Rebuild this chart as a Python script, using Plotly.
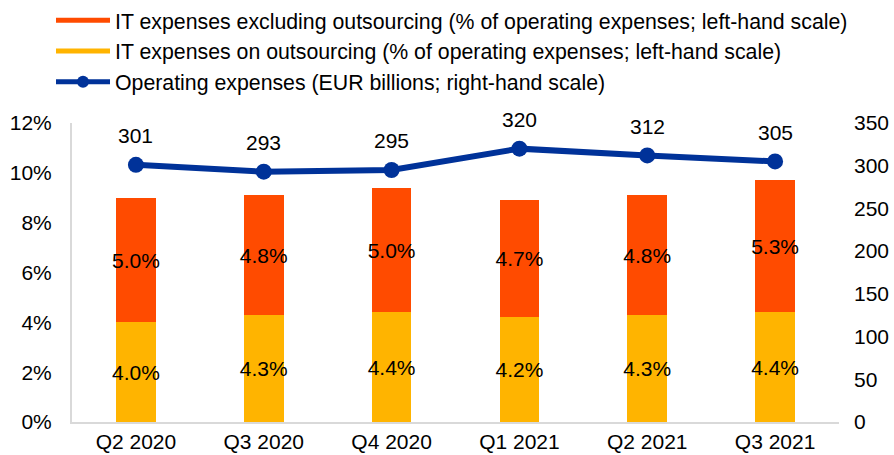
import plotly.graph_objects as go

categories = ["Q2 2020", "Q3 2020", "Q4 2020", "Q1 2021", "Q2 2021", "Q3 2021"]
it_outsourcing = [4.0, 4.3, 4.4, 4.2, 4.3, 4.4]
it_excl_outsourcing = [5.0, 4.8, 5.0, 4.7, 4.8, 5.3]
operating_expenses = [301, 293, 295, 320, 312, 305]

name_excl = "IT expenses excluding outsourcing (% of operating expenses; left-hand scale)"
name_out = "IT expenses on outsourcing (% of operating expenses; left-hand scale)"
name_opex = "Operating expenses (EUR billions; right-hand scale)"

FONT = "Liberation Sans, Arial, sans-serif"
FS = 21
C_OUT = "#FFB400"
C_EXCL = "#FF4B00"
C_BLUE = "#003299"

fig = go.Figure()
fig.add_trace(go.Bar(
    x=categories, y=it_outsourcing, name=name_out, showlegend=False,
    marker=dict(color=C_OUT, line=dict(width=0)),
    text=[f"{v:.1f}%" for v in it_outsourcing], textposition="inside",
    insidetextanchor="middle", textangle=0, constraintext="none",
    textfont=dict(color="black", size=FS, family=FONT),
    width=0.31, cliponaxis=False,
))
fig.add_trace(go.Bar(
    x=categories, y=it_excl_outsourcing, name=name_excl, showlegend=False,
    marker=dict(color=C_EXCL, line=dict(width=0)),
    text=[f"{v:.1f}%" for v in it_excl_outsourcing], textposition="inside",
    insidetextanchor="middle", textangle=0, constraintext="none",
    textfont=dict(color="black", size=FS, family=FONT),
    width=0.31, cliponaxis=False,
))
fig.add_trace(go.Scatter(
    x=categories, y=operating_expenses, yaxis="y2", name=name_opex,
    mode="lines+markers", showlegend=False,
    line=dict(color=C_BLUE, width=6),
    marker=dict(color=C_BLUE, size=16),
    cliponaxis=False,
))

# legend entries
fig.add_trace(go.Scatter(x=[None], y=[None], name=name_excl, mode="lines",
                         line=dict(color=C_EXCL, width=11), legendrank=1))
fig.add_trace(go.Scatter(x=[None], y=[None], name=name_out, mode="lines",
                         line=dict(color=C_OUT, width=11), legendrank=2))
fig.add_trace(go.Scatter(x=[None], y=[None], name=name_opex, mode="lines+markers",
                         line=dict(color=C_BLUE, width=7),
                         marker=dict(color=C_BLUE, size=14), legendrank=3))

for c, v in zip(categories, operating_expenses):
    fig.add_annotation(x=c, y=v, yref="y2", text=str(v), showarrow=False,
                       yshift=29, font=dict(size=FS, family=FONT, color="black"))

fig.update_layout(
    width=894, height=455,
    margin=dict(l=72, r=55, t=123, b=33, autoexpand=False),
    barmode="stack",
    plot_bgcolor="white", paper_bgcolor="white",
    font=dict(family=FONT, size=FS, color="black"),
    showlegend=True,
    legend=dict(x=51 / 894, y=1.0, xref="container", yref="container",
                xanchor="left", yanchor="top",
                traceorder="normal", font=dict(size=21.3), bgcolor="rgba(0,0,0,0)",
                itemwidth=54, itemsizing="constant"),
    xaxis=dict(showgrid=False, showline=True, linecolor="#D9D9D9", linewidth=2,
               ticks="", tickfont=dict(size=FS), range=[-0.5, 5.5]),
    yaxis=dict(range=[0, 12], dtick=2, ticksuffix="%", showgrid=False, zeroline=False,
               showline=True, linecolor="#D9D9D9", linewidth=2, ticks="",
               tickfont=dict(size=FS), ticklabelstandoff=14),
    yaxis2=dict(range=[0, 350], dtick=50, overlaying="y", side="right", showgrid=False,
                zeroline=False, showline=False, ticks="", tickfont=dict(size=FS),
                ticklabelstandoff=14),
)

fig.write_html("out.html", config={"displayModeBar": False},
               post_script="document.body.style.margin='0px';")
